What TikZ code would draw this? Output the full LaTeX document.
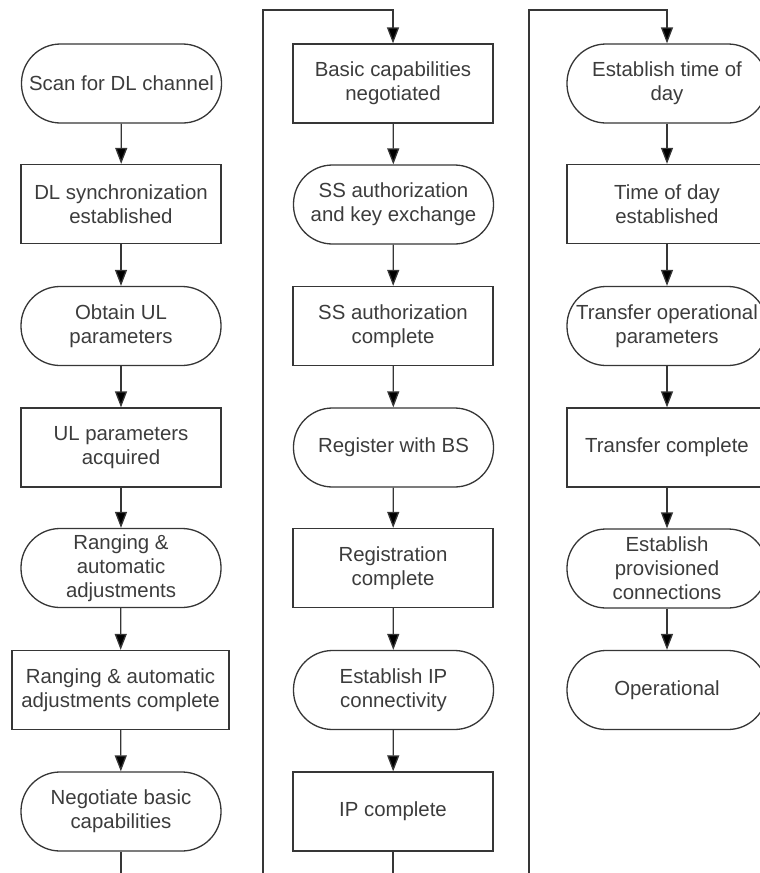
\documentclass[tikz,border=0pt]{standalone}
\usepackage{fontspec}
\setmainfont{Liberation Sans}
\usetikzlibrary{arrows.meta}
\definecolor{edge}{HTML}{363636}
\definecolor{ink}{HTML}{3C3C3C}
\begin{document}
\begin{tikzpicture}[x=1pt,y=-1pt,
  base/.style={draw=edge, line width=1.3pt, text=ink, align=center,
    font=\fontsize{20.4}{24}\selectfont, minimum width=200pt,
    minimum height=79pt, inner sep=0pt},
  stepbox/.style={base, rectangle},
  term/.style={base, rectangle, rounded corners=39pt},
  flow/.style={draw=edge, line width=1.3pt,
    -{Triangle[width=12pt,length=16pt,fill=black]}},
  link/.style={draw=edge, line width=1.3pt}]
\useasboundingbox (0,0) rectangle (760,873);
\clip (0,0) rectangle (760,873);

% first column
\node[term]    (a1) at (121.5,83.5)  {Scan for DL channel};
\node[stepbox] (a2) at (121,204)     {DL synchronization\\established};
\node[term]    (a3) at (121,326)     {Obtain UL\\parameters};
\node[stepbox] (a4) at (121,447.5)   {UL parameters\\acquired};
\node[term]    (a5) at (121,568)     {Ranging \&\\automatic\\adjustments};
\node[stepbox, minimum width=217pt] (a6) at (120.5,690) {Ranging \& automatic\\adjustments complete};
\node[term]    (a7) at (121,811.5)   {Negotiate basic\\capabilities};

% second column
\node[stepbox] (b1) at (393,83.5)    {Basic capabilities\\negotiated};
\node[term]    (b2) at (393.5,204.5) {SS authorization\\and key exchange};
\node[stepbox] (b3) at (393,326)     {SS authorization\\complete};
\node[term]    (b4) at (393.5,447.5) {Register with BS};
\node[stepbox] (b5) at (393,568)     {Registration\\complete};
\node[term]    (b6) at (393.5,690)   {Establish IP\\connectivity};
\node[stepbox] (b7) at (393,811.5)   {IP complete};

% third column
\node[term]    (c1) at (667,83.5)    {Establish time of\\day};
\node[stepbox] (c2) at (667,204)     {Time of day\\established};
\node[term]    (c3) at (667,326)     {Transfer operational\\parameters};
\node[stepbox] (c4) at (667,447.5)   {Transfer complete};
\node[term]    (c5) at (667,568.5)   {Establish\\provisioned\\connections};
\node[term]    (c6) at (667,690)     {Operational};

% arrows within each column
\foreach \u/\v in {a1/a2,a2/a3,a3/a4,a4/a5,a5/a6,a6/a7,
                   b1/b2,b2/b3,b3/b4,b4/b5,b5/b6,b6/b7,
                   c1/c2,c2/c3,c3/c4,c4/c5,c5/c6}
  \draw[flow] (\u) -- (\v);

% continuation from one column to the next
\coordinate (p1) at (121,874);
\coordinate (p2) at (263,874);
\coordinate (p3) at (263,10);
\coordinate (p4) at (393,10);
\draw[flow] (a7.south) -- (p1) -- (p2) -- (p3) -- (p4) -- (b1.north);

\coordinate (q1) at (393,874);
\coordinate (q2) at (529,874);
\coordinate (q3) at (529,10);
\coordinate (q4) at (667,10);
\draw[flow] (b7.south) -- (q1) -- (q2) -- (q3) -- (q4) -- (c1.north);
\end{tikzpicture}
\end{document}
